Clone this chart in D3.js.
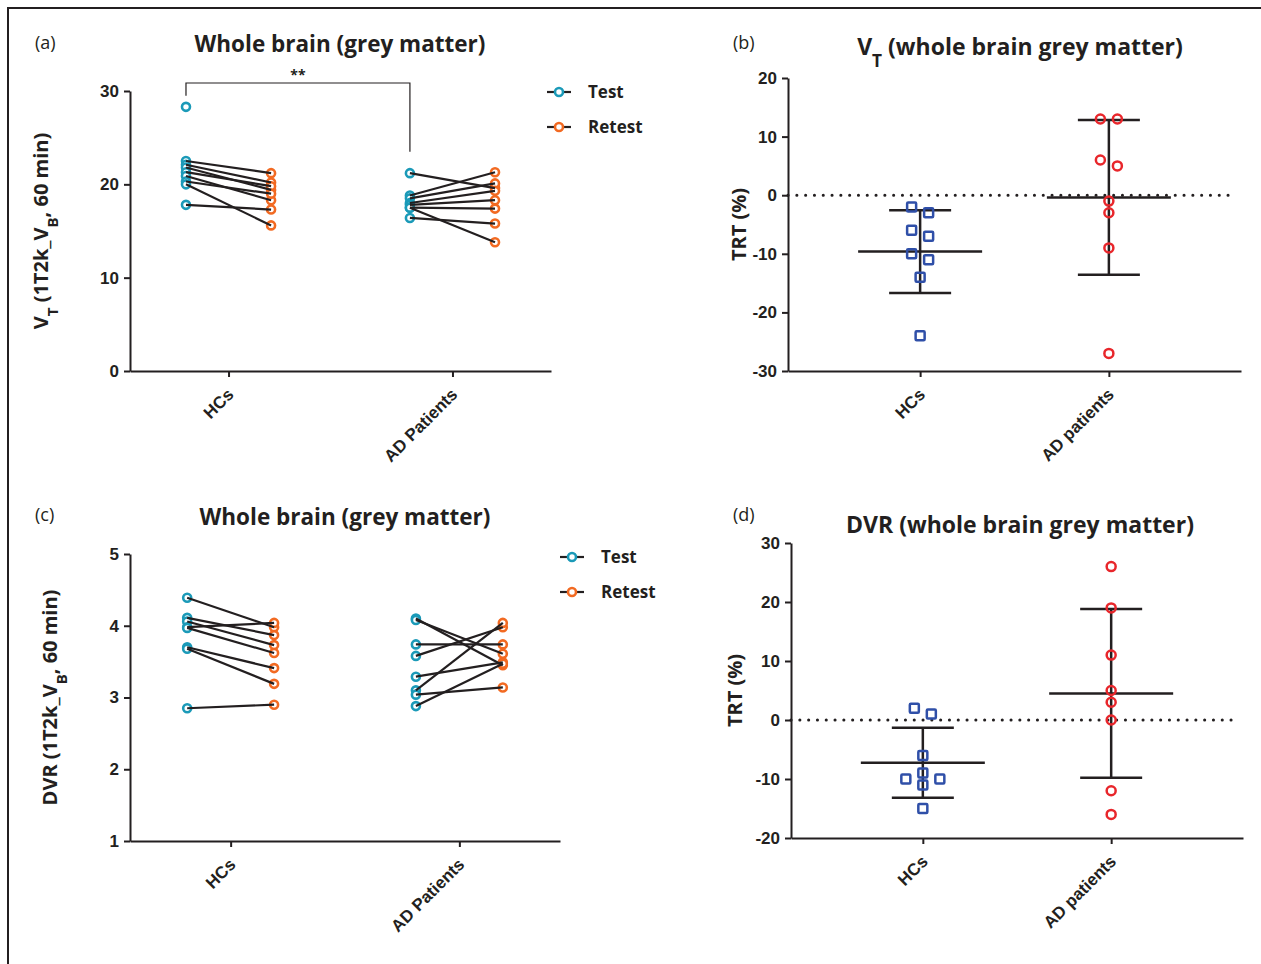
<!DOCTYPE html>
<meta charset="utf-8">
<title>Test-retest, whole brain grey matter</title>
<style>
body { margin: 0; background: #fff; }
svg { font-family: "Open Sans", Lato, sans-serif; }
.axis path, .axis line { stroke: #231f20; stroke-width: 2; }
.axis text { font-size: 17px; font-weight: bold; fill: #231f20; }
.title { font-size: 22.5px; font-weight: bold; fill: #231f20; }
.ylab { font-size: 20px; font-weight: bold; fill: #231f20; }
.plab { font-size: 18px; fill: #231f20; }
.leg { font-size: 17px; font-weight: bold; fill: #231f20; }
</style>
<body>
<svg id="chart" width="1261" height="964"></svg>
</body>
<script src="https://d3js.org/d3.v7.min.js"></script>
<script>

// categories
var groupsPaired = ["HCs", "AD Patients"];
var groupsTrt = ["HCs", "AD patients"];

// panel (a): VT test / retest (null = no retest drawn)
var vtHcTest   = [28.3, 22.5, 22.1, 21.8, 21.3, 20.9, 20.3, 20.0, 17.8];
var vtHcRetest = [null, 21.2, 20.2, 19.4, 19.8, 18.3, 19.0, 15.6, 17.3];
var vtAdTest   = [21.2, 18.8, 18.5, 18.0, 17.8, 17.5, 17.5, 16.4];
var vtAdRetest = [19.6, 21.3, 20.1, 19.3, 18.3, 17.4, 13.8, 15.8];

// panel (c): DVR test / retest
var dvrHcTest   = [4.39, 4.11, 4.06, 3.98, 3.97, 3.70, 3.68, 2.85];
var dvrHcRetest = [3.98, 3.87, 3.73, 4.04, 3.62, 3.41, 3.19, 2.90];
var dvrAdTest   = [4.10, 4.08, 3.74, 3.58, 3.29, 3.10, 3.04, 2.88];
var dvrAdRetest = [3.45, 3.61, 3.74, 3.98, 3.49, 4.04, 3.14, 3.47];

// panels (b), (d): TRT %
var trtVtHc  = [-2, -3, -6, -7, -10, -11, -14, -24];
var trtVtAd  = [13, 13, 6, 5, -1, -3, -9, -27];
var trtDvrHc = [2, 1, -6, -9, -10, -10, -11, -15];
var trtDvrAd = [26, 19, 11, 5, 3, 0, -12, -16];

var teal = "#1b9ab8", orange = "#f26a22", blue = "#2f4fa8", red = "#e8262b", ink = "#231f20";
var plain = function(d) { return String(d); };

var svg = d3.select("#chart");

// outer frame (top and left edges)
svg.append("path").attr("d", "M8,964V8H1261").attr("fill", "none")
  .attr("stroke", ink).attr("stroke-width", 2);

function sub(text, parts) {
  parts.forEach(function(p) {
    var t = text.append("tspan").text(p[0]);
    if (p[1]) t.attr("baseline-shift", "sub").style("font-size", "75%");
  });
}

function xLabels(g) {
  g.selectAll(".tick text")
    .attr("text-anchor", "end")
    .attr("dx", 0).attr("dy", "0.35em")
    .attr("transform", "translate(-5,14) rotate(-45)");
}

// paired test/retest panel
function paired(o) {
  var g = svg.append("g");
  var x = d3.scalePoint().domain(groupsPaired).range([o.x0, o.x1]).padding(0.44);
  var y = d3.scaleLinear().domain(o.ydom).range([o.yb, o.yt]);
  var off = x.step() * 0.19;

  g.append("g").attr("class", "axis").attr("transform", "translate(0," + o.yb + ")")
    .call(d3.axisBottom(x).tickSize(6).tickSizeOuter(0))
    .call(xLabels);
  g.append("g").attr("class", "axis").attr("transform", "translate(" + o.x0 + ",0)")
    .call(d3.axisLeft(y).tickValues(o.ticks).tickFormat(plain).tickSize(6).tickSizeOuter(0).tickPadding(5));

  o.sets.forEach(function(s, gi) {
    var cx = x(groupsPaired[gi]);
    var pairs = s[0].map(function(v, i) { return {t: v, r: s[1][i]}; });
    var both = pairs.filter(function(d) { return d.r != null; });
    g.selectAll(null).data(pairs).enter().append("circle")
      .attr("cx", cx - off).attr("cy", function(d) { return y(d.t); }).attr("r", 4)
      .attr("fill", "#fff").attr("stroke", teal).attr("stroke-width", 2.6);
    g.selectAll(null).data(both).enter().append("circle")
      .attr("cx", cx + off).attr("cy", function(d) { return y(d.r); }).attr("r", 4)
      .attr("fill", "#fff").attr("stroke", orange).attr("stroke-width", 2.6);
    g.selectAll(null).data(both).enter().append("line")
      .attr("x1", cx - off).attr("x2", cx + off)
      .attr("y1", function(d) { return y(d.t); }).attr("y2", function(d) { return y(d.r); })
      .attr("stroke", ink).attr("stroke-width", 2.2);
  });

  // legend
  [["Test", teal], ["Retest", orange]].forEach(function(l, i) {
    var ly = o.legY + i * 35;
    g.append("line").attr("x1", o.legX).attr("x2", o.legX + 24).attr("y1", ly).attr("y2", ly)
      .attr("stroke", ink).attr("stroke-width", 2.2);
    g.append("circle").attr("cx", o.legX + 12).attr("cy", ly).attr("r", 4)
      .attr("fill", "#fff").attr("stroke", l[1]).attr("stroke-width", 2.6);
    g.append("text").attr("class", "leg").attr("x", o.legX + 41).attr("y", ly + 6).text(l[0]);
  });

  g.append("text").attr("class", "title").attr("x", o.titleX).attr("y", o.titleY)
    .attr("text-anchor", "middle").text("Whole brain (grey matter)");
  var yl = g.append("text").attr("class", "ylab")
    .attr("transform", "translate(" + o.ylabX + "," + (o.yt + o.yb) / 2 + ") rotate(-90)")
    .attr("text-anchor", "middle");
  sub(yl, o.ylab);
  return {g: g, x: x, y: y, off: off};
}

// rows of nearly equal values spread sideways, filled centre-out
function swarm(vals, y, step, dmin) {
  var sorted = vals.slice().sort(d3.descending), rows = [], out = [];
  sorted.forEach(function(v) {
    var r = rows[rows.length - 1];
    if (r && Math.abs(y(r[0]) - y(v)) < dmin) r.push(v); else rows.push([v]);
  });
  rows.forEach(function(r) {
    var n = r.length;
    var slots = d3.range(n).map(function(i) { return (i - (n - 1) / 2) * step; })
      .sort(function(a, b) { return Math.abs(a) - Math.abs(b) || a - b; });
    r.forEach(function(v, i) { out.push({dx: slots[i], py: y(v)}); });
  });
  return out;
}

// scatter of TRT % with mean and SD
function trt(o) {
  var g = svg.append("g");
  var x = d3.scalePoint().domain(groupsTrt).range([o.x0, o.x1]).padding(0.7);
  var y = d3.scaleLinear().domain(o.ydom).range([o.yb, o.yt]);

  g.append("g").attr("class", "axis").attr("transform", "translate(0," + o.yb + ")")
    .call(d3.axisBottom(x).tickSize(6).tickSizeOuter(0))
    .call(xLabels);
  g.append("g").attr("class", "axis").attr("transform", "translate(" + o.x0 + ",0)")
    .call(d3.axisLeft(y).ticks(5).tickFormat(plain).tickSize(6).tickSizeOuter(0).tickPadding(5));

  g.append("line").attr("x1", o.x0).attr("x2", o.x1 - 6).attr("y1", y(0)).attr("y2", y(0))
    .attr("stroke", ink).attr("stroke-width", 3).attr("stroke-linecap", "round")
    .attr("stroke-dasharray", "0.1,8.7");

  o.sets.forEach(function(vals, gi) {
    var cx = x(groupsTrt[gi]);
    var m = d3.mean(vals), sd = d3.deviation(vals);
    var placed = swarm(vals, y, 17, 11);
    g.append("line").attr("x1", cx - 62).attr("x2", cx + 62).attr("y1", y(m)).attr("y2", y(m))
      .attr("stroke", ink).attr("stroke-width", 2.5);
    g.append("line").attr("x1", cx).attr("x2", cx).attr("y1", y(m + sd)).attr("y2", y(m - sd))
      .attr("stroke", ink).attr("stroke-width", 2.5);
    [m + sd, m - sd].forEach(function(v) {
      g.append("line").attr("x1", cx - 31).attr("x2", cx + 31).attr("y1", y(v)).attr("y2", y(v))
        .attr("stroke", ink).attr("stroke-width", 2.5);
    });
    if (gi === 0) {
      g.selectAll(null).data(placed).enter().append("rect")
        .attr("x", function(d) { return cx + d.dx - 4.5; }).attr("y", function(d) { return d.py - 4.5; })
        .attr("width", 9).attr("height", 9).attr("rx", 1)
        .attr("fill", "none").attr("stroke", blue).attr("stroke-width", 2.5);
    } else {
      g.selectAll(null).data(placed).enter().append("circle")
        .attr("cx", function(d) { return cx + d.dx; }).attr("cy", function(d) { return d.py; }).attr("r", 4.5)
        .attr("fill", "none").attr("stroke", red).attr("stroke-width", 2.5);
    }
  });

  var t = g.append("text").attr("class", "title").attr("x", o.titleX).attr("y", o.titleY)
    .attr("text-anchor", "middle").style("font-size", "23px");
  sub(t, o.title);
  g.append("text").attr("class", "ylab")
    .attr("transform", "translate(" + o.ylabX + "," + (o.yt + o.yb) / 2 + ") rotate(-90)")
    .attr("text-anchor", "middle").text("TRT (%)");
}

// (a)
var pa = paired({
  x0: 130, x1: 551, yb: 371, yt: 91, ydom: [0, 30], ticks: [0, 10, 20, 30],
  sets: [[vtHcTest, vtHcRetest], [vtAdTest, vtAdRetest]],
  legX: 547, legY: 92, titleX: 340, titleY: 52, ylabX: 48,
  ylab: [["V"], ["T", 1], [" (1T2k_V"], ["B", 1], [", 60 min)"]]
});
// significance bracket between HCs test and AD test
var bx1 = pa.x(groupsPaired[0]) - pa.off, bx2 = pa.x(groupsPaired[1]) - pa.off;
pa.g.append("path").attr("fill", "none").attr("stroke", ink).attr("stroke-width", 1.2)
  .attr("d", "M" + bx1 + "," + pa.y(vtHcTest[0] + 1.2) + "V83H" + bx2 + "V" + pa.y(vtAdTest[0] + 2.3));
pa.g.append("text").attr("x", (bx1 + bx2) / 2).attr("y", 80).attr("text-anchor", "middle")
  .style("font-size", "14px").style("font-weight", "bold").attr("fill", ink).text("**");

// (c)
paired({
  x0: 130, x1: 560, yb: 841, yt: 554, ydom: [1, 5], ticks: [1, 2, 3, 4, 5],
  sets: [[dvrHcTest, dvrHcRetest], [dvrAdTest, dvrAdRetest]],
  legX: 560, legY: 557, titleX: 345, titleY: 525, ylabX: 57,
  ylab: [["DVR (1T2k_V"], ["B", 1], [", 60 min)"]]
});

// (b)
trt({
  x0: 788, x1: 1241, yb: 371, yt: 78, ydom: [-30, 20],
  sets: [trtVtHc, trtVtAd], titleX: 1020, titleY: 55, ylabX: 746,
  title: [["V"], ["T", 1], [" (whole brain grey matter)"]]
});

// (d)
trt({
  x0: 791, x1: 1243, yb: 838, yt: 543, ydom: [-20, 30],
  sets: [trtDvrHc, trtDvrAd], titleX: 1020, titleY: 533, ylabX: 742,
  title: [["DVR (whole brain grey matter)"]]
});

// panel letters
[["(a)", 35, 49], ["(b)", 733, 49], ["(c)", 35, 521], ["(d)", 733, 521]].forEach(function(p) {
  svg.append("text").attr("class", "plab").attr("x", p[1]).attr("y", p[2]).text(p[0]);
});
</script>
